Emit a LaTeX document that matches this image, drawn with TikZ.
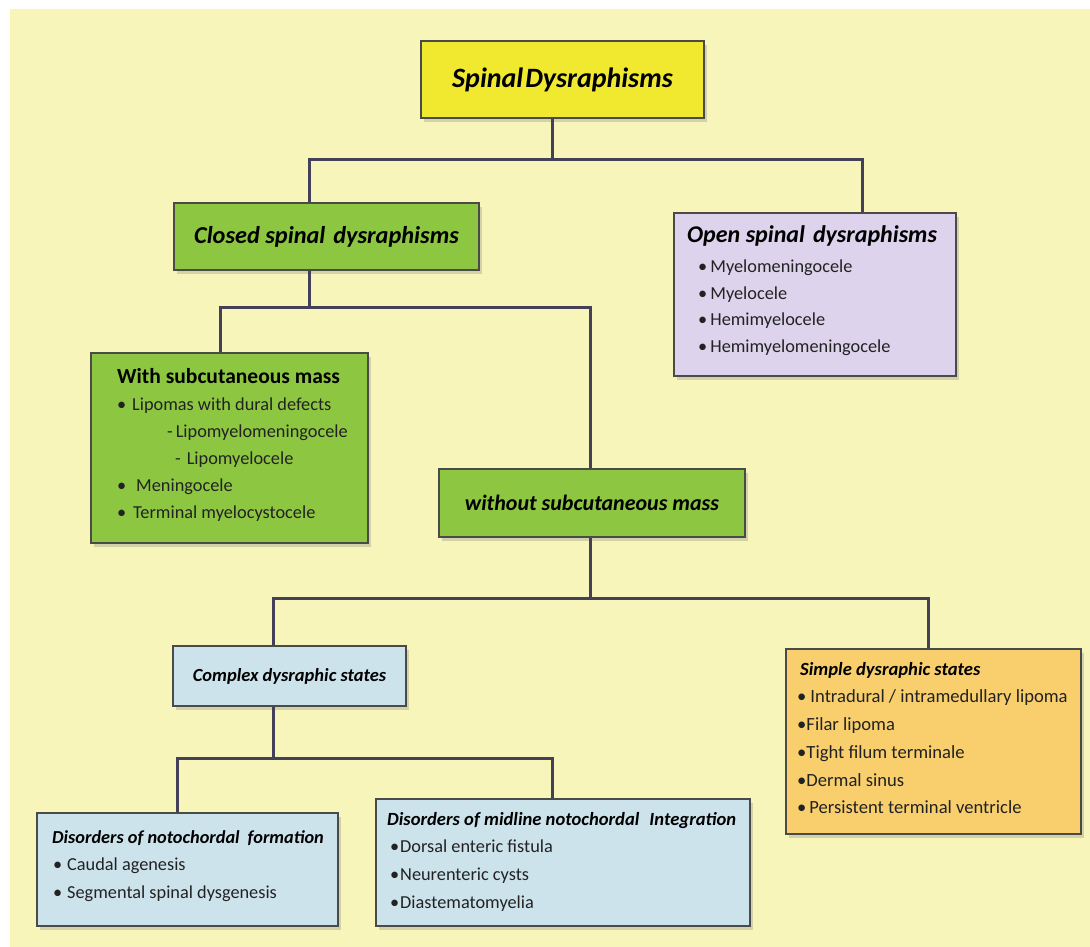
\documentclass[tikz,border=0pt]{standalone}
\usepackage{fontspec}
\setmainfont{Carlito}
\usetikzlibrary{shadows}
\definecolor{bg}{HTML}{F8F5BA}
\definecolor{rootc}{HTML}{F0E930}
\definecolor{greenc}{HTML}{8DC641}
\definecolor{openc}{HTML}{DDD3EC}
\definecolor{bluec}{HTML}{CCE3EC}
\definecolor{simplec}{HTML}{F8CF6C}
\definecolor{boxline}{HTML}{4A4A48}
\definecolor{connc}{HTML}{45405A}
\definecolor{itemc}{HTML}{222222}
\begin{document}
\begin{tikzpicture}[x=1pt,y=-1pt,
  box/.style={draw=boxline, line width=2pt, inner sep=0pt, anchor=north west,
    drop shadow={shadow xshift=3pt,shadow yshift=-4pt,opacity=0.3}},
  conn/.style={draw=connc, line width=3pt},
  txt/.style={anchor=north west, inner sep=0pt, align=left, text=itemc,
    font=\fontsize{18.3}{27.5}\selectfont},
  head/.style={font=\fontsize{18.5}{27.5}\selectfont\bfseries\itshape, text=black}]
\useasboundingbox (0,0) rectangle (1090,947);
\fill[white] (0,0) rectangle (1090,947);
\fill[bg] (10,9) rectangle (1090,947);

% junction coordinates
\coordinate (j1) at (552,160); \coordinate (j1l) at (309,160); \coordinate (j1r) at (862,160);
\coordinate (j2) at (309,307); \coordinate (j2l) at (220,307); \coordinate (j2r) at (590,307);
\coordinate (j3) at (590,598); \coordinate (j3l) at (273,598); \coordinate (j3r) at (928,598);
\coordinate (j4) at (273,758); \coordinate (j4l) at (177,758); \coordinate (j4r) at (552,758);

% boxes
\node[box, fill=rootc, minimum width=283pt, minimum height=77pt,
  font=\fontsize{28}{32}\selectfont\bfseries\itshape] (root) at (420,40) {Spinal\hspace{2pt}Dysraphisms};
\node[box, fill=greenc, minimum width=305pt, minimum height=67pt,
  font=\fontsize{24.3}{28}\selectfont\bfseries\itshape] (closed) at (173,202) {Closed spinal\hspace{8pt}dysraphisms};
\node[box, fill=openc, minimum width=282pt, minimum height=163pt] (open) at (673,212) {};
\node[box, fill=greenc, minimum width=277pt, minimum height=190pt] (withsub) at (90,352) {};
\node[box, fill=greenc, minimum width=306pt, minimum height=68pt,
  font=\fontsize{22}{26}\selectfont\bfseries\itshape] (without) at (438,468) {without subcutaneous mass};
\node[box, fill=bluec, minimum width=233pt, minimum height=60pt, head] (complex) at (172,645) {Complex dysraphic states};
\node[box, fill=simplec, minimum width=295pt, minimum height=185pt] (simple) at (785,648) {};
\node[box, fill=bluec, minimum width=301pt, minimum height=113pt] (formation) at (36,812) {};
\node[box, fill=bluec, minimum width=374pt, minimum height=127pt] (mid) at (375,798) {};

% texts
\node[txt, font=\fontsize{18.3}{26.5}\selectfont] (openT) at (687,225)
  {{\fontsize{24}{26.5}\selectfont\bfseries\itshape\color{black}Open spinal\hspace{8pt}dysraphisms}\\[4pt]
   \hspace*{11pt}•\,Myelomeningocele\\
   \hspace*{11pt}•\,Myelocele\\
   \hspace*{11pt}•\,Hemimyelocele\\
   \hspace*{11pt}•\,Hemimyelomeningocele};
\node[txt, font=\fontsize{18.3}{27}\selectfont] (withsubT) at (117,368)
  {{\fontsize{21.5}{27}\selectfont\bfseries\color{black}With subcutaneous mass}\\
   \makebox[15pt][l]{•}Lipomas with dural defects\\
   \hspace*{50pt}-\hspace{3pt}Lipomyelomeningocele\\
   \hspace*{58pt}-\hspace{6pt}Lipomyelocele\\
   \makebox[19pt][l]{•}Meningocele\\
   \makebox[16pt][l]{•}Terminal myelocystocele};
\node[txt, font=\fontsize{18.6}{27.7}\selectfont] (simpleT) at (800,662)
  {{\bfseries\itshape\color{black}Simple dysraphic states}\\
   \hspace*{-3pt}•\hspace{4pt}Intradural / intramedullary lipoma\\
   \hspace*{-3pt}•Filar lipoma\\
   \hspace*{-3pt}•Tight filum terminale\\
   \hspace*{-3pt}•Dermal sinus\\
   \hspace*{-3pt}•\hspace{3pt}Persistent terminal ventricle};
\node[txt] (formationT) at (52,830)
  {{\bfseries\itshape\color{black}Disorders of notochordal\hspace{8pt}formation}\\
   \hspace*{1pt}\makebox[14pt][l]{•}Caudal agenesis\\
   \hspace*{1pt}\makebox[14pt][l]{•}Segmental spinal dysgenesis};
\node[txt, font=\fontsize{18.3}{27.7}\selectfont] (midT) at (387,812)
  {{\fontsize{18.6}{27.7}\selectfont\bfseries\itshape\color{black}Disorders of midline notochordal\hspace{10pt}Integration}\\
   \hspace*{3pt}\makebox[10pt][l]{•}Dorsal enteric fistula\\
   \hspace*{3pt}\makebox[10pt][l]{•}Neurenteric cysts\\
   \hspace*{3pt}\makebox[10pt][l]{•}Diastematomyelia};

% connectors
\draw[conn] (root.south -| j1) -- (j1);
\draw[conn] (closed.north -| j1l) -- (j1l) -- (j1r) -- (open.north -| j1r);
\draw[conn] (closed.south -| j2) -- (j2);
\draw[conn] (withsub.north -| j2l) -- (j2l) -- (j2r) -- (without.north -| j2r);
\draw[conn] (without.south -| j3) -- (j3);
\draw[conn] (complex.north -| j3l) -- (j3l) -- (j3r) -- (simple.north -| j3r);
\draw[conn] (complex.south -| j4) -- (j4);
\draw[conn] (formation.north -| j4l) -- (j4l) -- (j4r) -- (mid.north -| j4r);
\end{tikzpicture}
\end{document}
